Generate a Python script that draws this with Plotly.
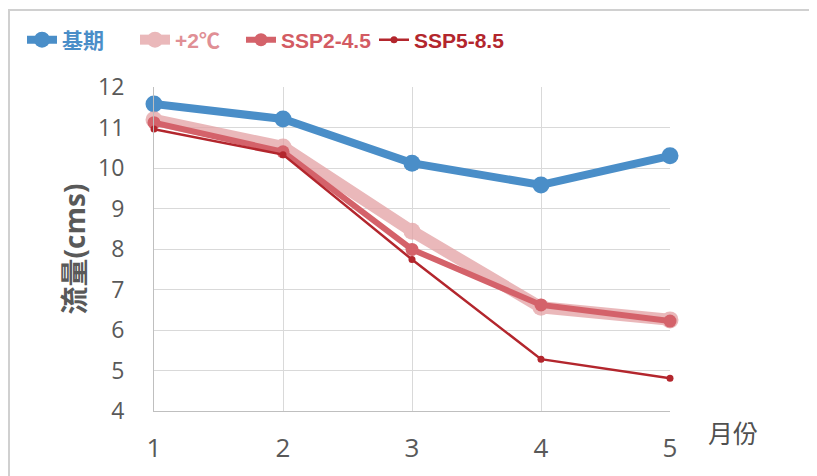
import plotly.graph_objects as go

months = [1, 2, 3, 4, 5]
baseline = [11.58, 11.21, 10.12, 9.58, 10.30]
plus2c = [11.19, 10.52, 8.44, 6.56, 6.25]
ssp245 = [11.12, 10.40, 7.99, 6.62, 6.22]
ssp585 = [10.96, 10.33, 7.74, 5.28, 4.81]
y_ticks = [4, 5, 6, 7, 8, 9, 10, 11, 12]
x_ticks = [1, 2, 3, 4, 5]

W, H = 817, 476
OFF = 8  # page body margin
L, T = 154, 87
pw, ph = 516, 324

def px_x(p):
    return (p - L) / pw

def px_y(p):
    return 1 - (p - T) / ph

tickfont = dict(family="Open Sans, Noto Sans CJK TC", size=23, color="#595959")
legfont = "Liberation Sans, Arial, Noto Sans CJK TC"

fig = go.Figure()
series = [
    ("基期", baseline, "#4a8ec8", 8, 17, 1.0, "#4a8ec8", "legend"),
    ("+2℃", plus2c, "#e3a1a4", 12, 17, 0.75, "#e08f95", "legend2"),
    ("SSP2-4.5", ssp245, "#d4626a", 6, 13, 1.0, "#d35b63", "legend3"),
    ("SSP5-8.5", ssp585, "#b3262d", 2.5, 7, 1.0, "#b3262d", "legend4"),
]
for name, vals, col, lw, ms, op, tcol, leg in series:
    fig.add_trace(go.Scatter(
        x=months, y=vals, mode="lines+markers",
        name=f"<b><span style='color:{tcol}'>{name}</span></b>",
        line=dict(color=col, width=lw),
        marker=dict(color=col, size=ms),
        opacity=op, legend=leg, cliponaxis=False,
    ))

leg_x = [22, 135, 241, 374]
leg_common = dict(orientation="h", yanchor="middle", xanchor="left",
                  bgcolor="rgba(0,0,0,0)", font=dict(family=legfont, size=21),
                  borderwidth=0)
layout_legs = {}
for i, key in enumerate(["legend", "legend2", "legend3", "legend4"]):
    layout_legs[key] = dict(leg_common, x=px_x(leg_x[i]), y=px_y(40))

fig.update_layout(
    width=W, height=H,
    margin=dict(l=L - OFF, r=W - (L - OFF) - pw, t=T - OFF, b=H - (T - OFF) - ph,
                autoexpand=False),
    paper_bgcolor="white", plot_bgcolor="white",
    showlegend=True,
    xaxis=dict(range=[1, 5], tickvals=x_ticks, ticktext=[str(v) for v in x_ticks],
               showgrid=True, gridcolor="#d9d9d9", gridwidth=1,
               showline=True, linecolor="#bfbfbf", linewidth=1,
               zeroline=False, ticks="", ticklabelstandoff=14,
               tickfont=dict(family="Open Sans, Noto Sans CJK TC", size=26, color="#595959")),
    yaxis=dict(range=[4, 12], tickvals=y_ticks,
               showgrid=True, gridcolor="#d9d9d9", gridwidth=1,
               showline=True, linecolor="#bfbfbf", linewidth=1,
               zeroline=False, ticks="", ticklabelstandoff=24,
               tickfont=tickfont,
               title=dict(text="<b>流量(cms)</b>", standoff=4,
                          font=dict(family="Open Sans, Noto Sans CJK TC", size=28, color="#595959"))),
    annotations=[dict(text="月份", x=px_x(733), y=px_y(432), xref="paper", yref="paper",
                      showarrow=False, xanchor="center", yanchor="middle",
                      font=dict(family="Noto Sans CJK TC", size=25, color="#505050"))],
    shapes=[dict(type="rect", xref="paper", yref="paper",
                 x0=px_x(9), x1=px_x(840), y0=px_y(500), y1=px_y(10),
                 line=dict(color="#d0d0d0", width=2), layer="below")],
    **layout_legs,
)

fig.write_html("out.html")
